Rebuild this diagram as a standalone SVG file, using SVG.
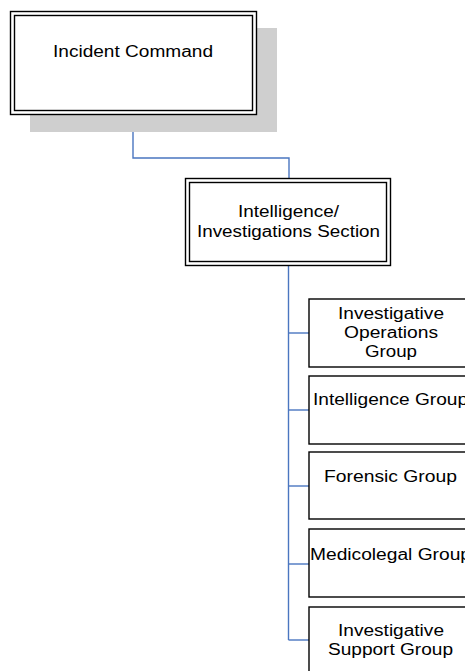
<svg xmlns="http://www.w3.org/2000/svg" width="465" height="671" viewBox="0 0 465 671">
  <style>
    .bg { fill: #ffffff; }
    .box { fill: #ffffff; stroke: #000000; stroke-width: 1.4; }
    .shadow { fill: #cfcfcf; }
    .link { fill: none; stroke: #4a76c0; stroke-width: 1.4; }
    text { font-family: "Liberation Sans", Arial, sans-serif; font-size: 16px; fill: #000000; }
    .c { text-anchor: middle; }
  </style>
  <rect class="bg" x="0" y="0" width="465" height="671"/>

  <!-- connectors -->
  <g id="connectors">
    <polyline class="link" points="133,114 133,158 289,158 289,179"/>
    <line class="link" x1="288.5" y1="265" x2="288.5" y2="640"/>
    <line class="link" x1="288.5" y1="333" x2="309" y2="333"/>
    <line class="link" x1="288.5" y1="410" x2="309" y2="410"/>
    <line class="link" x1="288.5" y1="486" x2="309" y2="486"/>
    <line class="link" x1="288.5" y1="564" x2="309" y2="564"/>
    <line class="link" x1="288.5" y1="640" x2="309" y2="640"/>
  </g>

  <!-- top-level command -->
  <g id="incident-command">
    <rect class="shadow" x="30" y="28" width="247" height="104"/>
    <rect class="box" x="10.5" y="11.5" width="246" height="103"/>
    <rect class="box" x="14.5" y="15.5" width="238" height="95"/>
    <text class="c" x="133" y="57" textLength="160" lengthAdjust="spacingAndGlyphs">Incident Command</text>
  </g>

  <!-- section -->
  <g id="intel-section">
    <rect class="box" x="185.5" y="178.5" width="205" height="87"/>
    <rect class="box" x="189.5" y="182.5" width="197" height="79"/>
    <text class="c" x="288.5" y="217" textLength="101" lengthAdjust="spacingAndGlyphs">Intelligence/</text>
    <text class="c" x="288.5" y="237" textLength="183" lengthAdjust="spacingAndGlyphs">Investigations Section</text>
  </g>

  <!-- groups -->
  <g id="investigative-operations-group">
    <rect class="box" x="309" y="299" width="164" height="68"/>
    <text class="c" x="391" y="319" textLength="106" lengthAdjust="spacingAndGlyphs">Investigative</text>
    <text class="c" x="391" y="338" textLength="94" lengthAdjust="spacingAndGlyphs">Operations</text>
    <text class="c" x="391" y="357" textLength="52" lengthAdjust="spacingAndGlyphs">Group</text>
  </g>

  <g id="intelligence-group">
    <rect class="box" x="309" y="376" width="164" height="68"/>
    <text x="313" y="405" textLength="155" lengthAdjust="spacingAndGlyphs">Intelligence Group</text>
  </g>

  <g id="forensic-group">
    <rect class="box" x="309" y="452" width="164" height="67"/>
    <text class="c" x="390.5" y="482" textLength="133" lengthAdjust="spacingAndGlyphs">Forensic Group</text>
  </g>

  <g id="medicolegal-group">
    <rect class="box" x="309" y="529" width="164" height="68"/>
    <text x="310" y="560" textLength="161" lengthAdjust="spacingAndGlyphs">Medicolegal Group</text>
  </g>

  <g id="investigative-support-group">
    <rect class="box" x="309" y="607" width="164" height="68"/>
    <text class="c" x="391" y="636" textLength="106" lengthAdjust="spacingAndGlyphs">Investigative</text>
    <text class="c" x="390.5" y="655" textLength="125" lengthAdjust="spacingAndGlyphs">Support Group</text>
  </g>
</svg>
